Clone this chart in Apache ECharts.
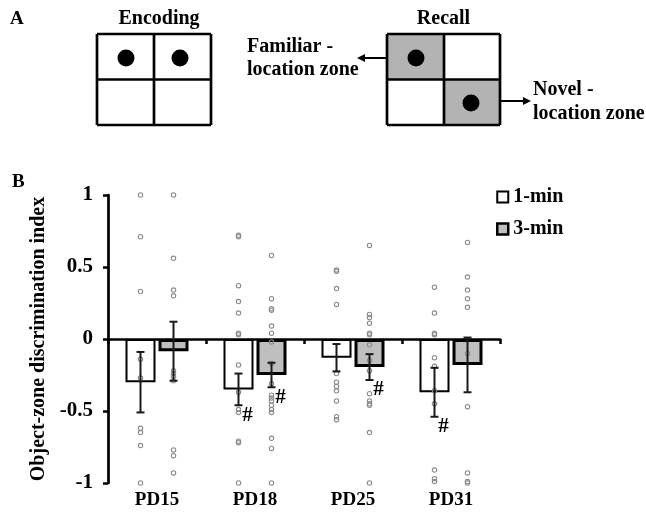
<!DOCTYPE html>
<html>
<head>
<meta charset="utf-8">
<script src="https://cdn.jsdelivr.net/npm/echarts@6/dist/echarts.min.js"></script>
<style>
  html, body { margin: 0; padding: 0; background: #fff; }
  #chart { width: 646px; height: 517px; }
</style>
</head>
<body>
<div id="chart"></div>
<script>
// Postnatal ages on the x axis
const categories = ['PD15', 'PD18', 'PD25', 'PD31'];
const groupNames = ['1-min', '3-min'];

// Group means and standard errors of the discrimination index
const mean1 = [-0.30, -0.35, -0.13, -0.37];
const sem1 = [0.21, 0.11, 0.095, 0.17];
const mean3 = [-0.085, -0.25, -0.195, -0.18];
const sem3 = [0.205, 0.085, 0.09, 0.19];

// '#' marks: significant difference from chance
const sig1 = [0, 1, 0, 1];
const sig3 = [0, 1, 1, 0];

// Individual animals, per age
const dots1 = [
  [1, 0.71, 0.33, -0.14, -0.27, -0.62, -0.65, -0.74, -1],
  [0.72, 0.71, 0.37, 0.26, 0.18, 0.04, 0.03, -0.18, -0.37, -0.49, -0.51, -0.71, -0.72, -1],
  [0.48, 0.47, 0.35, 0.24, -0.24, -0.30, -0.33, -0.36, -0.43, -0.54, -0.56],
  [0.36, 0.18, 0.04, 0.03, -0.13, -0.19, -0.36, -0.45, -0.91, -0.97, -0.99]
];
const dots3 = [
  [1, 0.56, 0.34, 0.30, -0.22, -0.24, -0.26, -0.29, -0.77, -0.81, -0.93],
  [0.58, 0.28, 0.21, 0.20, 0.09, 0.04, -0.02, -0.17, -0.31, -0.39, -0.41, -0.43, -0.46, -0.49, -0.51, -0.69, -0.76, -1],
  [0.65, 0.17, 0.15, 0.11, 0.04, 0.03, -0.04, -0.15, -0.22, -0.38, -0.43, -0.45, -0.46, -0.65, -1],
  [0.67, 0.43, 0.34, 0.28, 0.22, -0.10, -0.47, -0.93, -0.99, -1]
];

// Y axis range and step
const yMin = -1, yMax = 1, yStep = 0.5;

const SERIF = "'Liberation Serif', 'Times New Roman', serif";
const BAR_W = 30;
const BAR_GAP_PX = 3;
const HALF_SHIFT = (BAR_W + BAR_GAP_PX) / 2;

function dotSeries(name, groups, side) {
  const data = [];
  groups.forEach((vals, i) => vals.forEach(v => data.push([i, v])));
  return {
    name: name, type: 'custom', xAxisIndex: 0, yAxisIndex: 0, z: 5,
    encode: { x: 0, y: 1 }, data: data, silent: true,
    renderItem: function (params, api) {
      const p = api.coord([api.value(0), api.value(1)]);
      return {
        type: 'circle',
        shape: { cx: p[0] + side * HALF_SHIFT, cy: p[1], r: 2.2 },
        style: { fill: 'rgba(255,255,255,0)', stroke: '#8c8c8c', lineWidth: 1.1 }
      };
    }
  };
}

function errSeries(name, means, sems, sigs, side) {
  const data = means.map((m, i) => [i, m, sems[i], sigs[i]]);
  return {
    name: name, type: 'custom', xAxisIndex: 0, yAxisIndex: 0, z: 6,
    encode: { x: 0, y: 1 }, data: data, silent: true,
    renderItem: function (params, api) {
      const i = api.value(0), m = api.value(1), s = api.value(2), g = api.value(3);
      const top = api.coord([i, m + s]);
      const bot = api.coord([i, m - s]);
      const x = top[0] + side * HALF_SHIFT;
      const st = { stroke: '#1a1a1a', lineWidth: 2 };
      const children = [
        { type: 'line', shape: { x1: x, y1: top[1], x2: x, y2: bot[1] }, style: st },
        { type: 'line', shape: { x1: x - 4, y1: top[1], x2: x + 4, y2: top[1] }, style: st },
        { type: 'line', shape: { x1: x - 4, y1: bot[1], x2: x + 4, y2: bot[1] }, style: st }
      ];
      if (g) {
        children.push({
          type: 'text', x: x + 9, y: bot[1] + 10,
          style: { text: '#', font: 'bold 21px ' + SERIF, fill: '#000', align: 'center', verticalAlign: 'middle' }
        });
      }
      return { type: 'group', children: children };
    }
  };
}

const txt = (s, x, y, size, align) => ({
  type: 'text', x: x, y: y, silent: true,
  style: { text: s, font: 'bold ' + size + 'px ' + SERIF, fill: '#000', align: align || 'left', verticalAlign: 'middle' }
});
const boxLine = (x1, y1, x2, y2) => ({
  type: 'line', silent: true, shape: { x1: x1, y1: y1, x2: x2, y2: y2 },
  style: { stroke: '#000', lineWidth: 2.7 }
});
const dot = (cx, cy) => ({ type: 'circle', silent: true, shape: { cx: cx, cy: cy, r: 8.5 }, style: { fill: '#000' } });
const cell = (x, y, w, h) => ({ type: 'rect', silent: true, shape: { x: x, y: y, width: w, height: h }, style: { fill: '#b3b3b3' } });
const arrowHead = (tx, ty, dir) => ({
  type: 'polygon', silent: true,
  shape: { points: [[tx, ty], [tx - dir * 8, ty - 4], [tx - dir * 8, ty + 4]] },
  style: { fill: '#000' }
});

// Schematic of the task: encoding and recall arenas
const panelA = [
  txt('A', 10, 19, 19),
  txt('Encoding', 159, 19, 20, 'center'),
  boxLine(97, 34, 211, 34), boxLine(97, 125, 211, 125),
  boxLine(97, 34, 97, 125), boxLine(211, 34, 211, 125),
  boxLine(154, 34, 154, 125), boxLine(97, 79.5, 211, 79.5),
  dot(126, 58), dot(180, 58),

  txt('Recall', 443.5, 19, 20, 'center'),
  cell(387, 34, 57, 45.5), cell(444, 79.5, 56, 45.5),
  boxLine(387, 34, 500, 34), boxLine(387, 125, 500, 125),
  boxLine(387, 34, 387, 125), boxLine(500, 34, 500, 125),
  boxLine(444, 34, 444, 125), boxLine(387, 79.5, 500, 79.5),
  dot(416, 58), dot(471, 103),

  { type: 'line', silent: true, shape: { x1: 387, y1: 58, x2: 364, y2: 58 }, style: { stroke: '#000', lineWidth: 2 } },
  arrowHead(357, 58, -1),
  txt('Familiar -', 247, 47, 20),
  txt('location zone', 247, 70, 20),

  { type: 'line', silent: true, shape: { x1: 500, y1: 101, x2: 524, y2: 101 }, style: { stroke: '#000', lineWidth: 2 } },
  arrowHead(531, 101, 1),
  txt('Novel -', 533, 90, 20),
  txt('location zone', 533, 114, 20),

  txt('B', 12, 182, 19)
];

const chart = echarts.init(document.getElementById('chart'), null, { renderer: 'canvas' });

chart.setOption({
  backgroundColor: '#fff',
  animation: false,
  grid: { left: 108, right: 146, top: 195, bottom: 34, containLabel: false },
  legend: {
    orient: 'vertical', left: 491, top: 182,
    itemWidth: 11, itemHeight: 11, itemGap: 12,
    icon: 'rect',
    textStyle: { fontFamily: SERIF, fontWeight: 'bold', fontSize: 20, color: '#000' },
    data: [
      { name: groupNames[0], itemStyle: { color: '#fff', borderColor: '#000', borderWidth: 2 } },
      { name: groupNames[1], itemStyle: { color: '#bfbfbf', borderColor: '#000', borderWidth: 2.5 } }
    ]
  },
  xAxis: [
    {
      type: 'category', data: categories,
      axisLine: { show: true, onZero: true, lineStyle: { color: '#000', width: 2.7 } },
      axisTick: { show: true, length: 5, lineStyle: { color: '#000', width: 2.5 } },
      axisLabel: { show: false },
      splitLine: { show: false }
    },
    {
      type: 'category', data: categories, position: 'bottom',
      axisLine: { show: false, onZero: false },
      axisTick: { show: false },
      axisLabel: { margin: 8, fontFamily: SERIF, fontWeight: 'bold', fontSize: 19, color: '#000' },
      splitLine: { show: false }
    }
  ],
  yAxis: {
    type: 'value', min: yMin, max: yMax, interval: yStep,
    name: 'Object-zone discrimination index',
    nameLocation: 'middle', nameGap: 58,
    nameTextStyle: { fontFamily: SERIF, fontWeight: 'bold', fontSize: 20, color: '#000' },
    axisLine: { show: true, lineStyle: { color: '#000', width: 2.7 } },
    axisTick: { show: true, length: 5, lineStyle: { color: '#000', width: 2.5 } },
    axisLabel: { margin: 15, fontFamily: SERIF, fontWeight: 'bold', fontSize: 21, color: '#000' },
    splitLine: { show: false }
  },
  graphic: panelA,
  series: [
    {
      name: groupNames[0], type: 'bar', data: mean1, barWidth: BAR_W, barGap: '10%', z: 2,
      itemStyle: { color: '#fff', borderColor: '#000', borderWidth: 2 }
    },
    {
      name: groupNames[1], type: 'bar', data: mean3, barWidth: BAR_W, barGap: '10%', z: 2,
      itemStyle: { color: '#bfbfbf', borderColor: '#000', borderWidth: 3 }
    },
    dotSeries('pts-1', dots1, -1),
    dotSeries('pts-3', dots3, 1),
    errSeries('err-1', mean1, sem1, sig1, -1),
    errSeries('err-3', mean3, sem3, sig3, 1)
  ]
});
</script>
</body>
</html>
